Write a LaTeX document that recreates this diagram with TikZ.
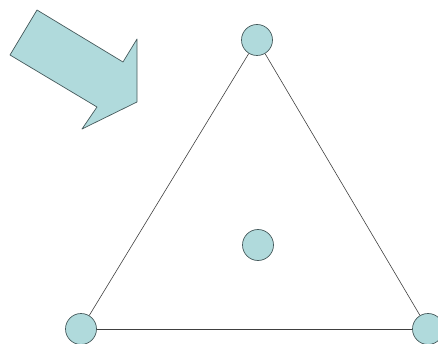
\documentclass[tikz,border=0pt]{standalone}
\usepackage{xcolor}
\usepackage{tikz}
\usetikzlibrary{positioning,calc}
\definecolor{dotfill}{RGB}{176,218,220}
\definecolor{dotline}{RGB}{70,90,92}
\begin{document}
\begin{tikzpicture}[x=1pt,y=-1pt]
  \tikzstyle{vertex}=[circle,draw=dotline,fill=dotfill,minimum size=31pt,inner sep=0pt,line width=0.7pt]
  \tikzstyle{edge}=[draw=black!75,line width=0.6pt]
  \useasboundingbox (0,0) rectangle (438,344);
  \node[vertex] (top) at (257,40) {};
  \node[vertex] (left) at (81,329) {};
  \node[vertex] (right) at (428,329) {};
  \node[vertex] (centre) at (258,245) {};
  \draw[edge] (top) -- (left);
  \draw[edge] (left) -- (right);
  \draw[edge] (right) -- (top);
  % block arrow pointing at the top vertex
  \draw[draw=dotline,fill=dotfill,line width=0.7pt,line join=round]
    (37,10) -- (123,62) -- (137,39) -- (137,102) -- (82,129) -- (97,107) -- (10,55) -- cycle;
\end{tikzpicture}
\end{document}
